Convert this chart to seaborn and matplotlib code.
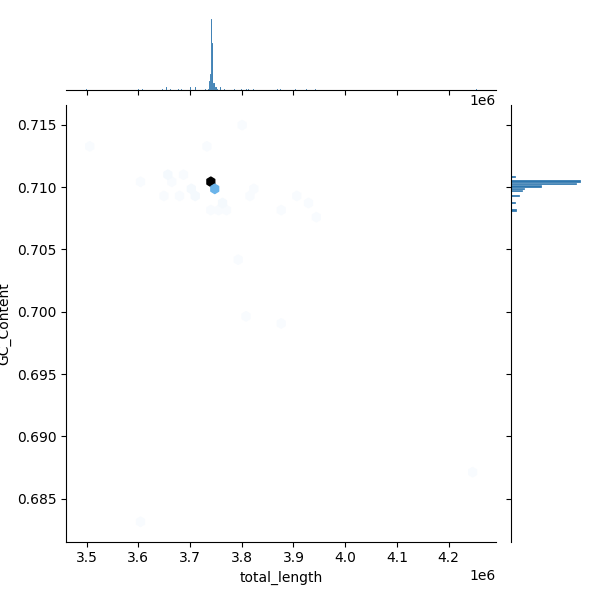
import numpy as np
import pandas as pd
import seaborn as sns
import matplotlib.pyplot as plt
from matplotlib.colors import LinearSegmentedColormap

total_length = [
    3741000, 3743000, 3739000, 3737000, 3741200, 3743200, 3739200, 3736800, 3738800,
    3741500, 3742800, 3745500, 3751000, 3747500, 3745000, 3749000, 3747000,
    3498500, 3728900, 3801000, 3654000, 3683600, 3609000, 3660800, 3701000,
    3822800, 3645200, 3676900, 3710000, 3813100, 3904400, 3759400, 3925800,
    3736600, 3752800, 3767700, 3869000, 3942700, 3786000, 3810000, 3874700,
    3600500, 4254000,
]
gc_content = [
    0.71044, 0.71044, 0.71044, 0.71044, 0.71028, 0.71028, 0.71028, 0.71028, 0.71020,
    0.71006, 0.71006, 0.70988, 0.70988, 0.70968, 0.70968, 0.70988, 0.70958,
    0.71320, 0.71326, 0.71498, 0.71090, 0.71084, 0.71040, 0.71040, 0.70986,
    0.70985, 0.70932, 0.70930, 0.70930, 0.70928, 0.70928, 0.70872, 0.70870,
    0.70815, 0.70815, 0.70812, 0.70816, 0.70750, 0.70412, 0.69950, 0.69905,
    0.68315, 0.68710,
]
n_genomes = [
    22, 12, 5, 4, 20, 12, 4, 3, 3,
    10, 10, 2, 2, 3, 3, 2, 2,
    1, 1, 1, 2, 1, 1, 1, 2,
    1, 1, 1, 2, 1, 1, 2, 1,
    1, 1, 1, 1, 1, 1, 1, 1,
    1, 1,
]

df = pd.DataFrame({
    'total_length': np.repeat(total_length, n_genomes),
    'GC_Content': np.repeat(gc_content, n_genomes),
})

hex_cmap = LinearSegmentedColormap.from_list(
    'hexblue', [(0, '#f8fbfe'), (0.43, '#5dade8'), (1, 'black')])
bar_color = '#2d76ae'

g = sns.JointGrid(data=df, x='total_length', y='GC_Content', height=6)
g.plot_joint(plt.hexbin, gridsize=50, mincnt=1, cmap=hex_cmap)
sns.histplot(data=df, x='total_length', ax=g.ax_marg_x, bins=387,
             color=bar_color, edgecolor='white', alpha=1)
sns.histplot(data=df, y='GC_Content', ax=g.ax_marg_y, bins=165,
             color=bar_color, edgecolor='white', alpha=1)

g.figure.savefig('out.png', dpi=100)
